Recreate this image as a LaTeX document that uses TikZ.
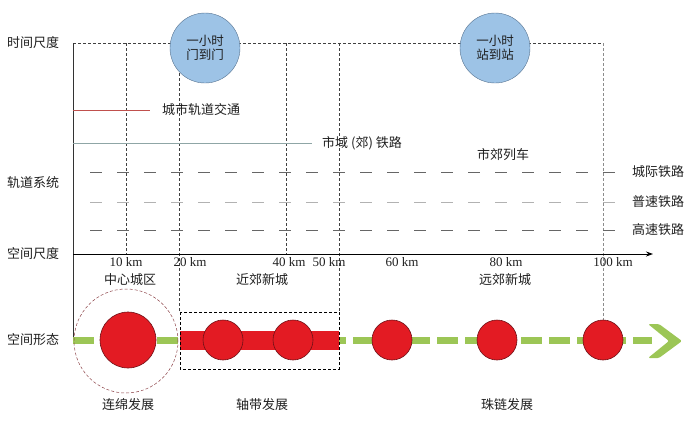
\documentclass[tikz,border=0pt]{standalone}
\usepackage{fontspec}
\setmainfont{Liberation Serif}
\newfontfamily\cjk{Noto Sans CJK SC}
\usepackage{tikz}
\usetikzlibrary{arrows.meta}

\definecolor{cityred}{HTML}{E31B23}
\definecolor{cityedge}{HTML}{6E1016}
\definecolor{hourblue}{HTML}{9DC3E6}
\definecolor{houredge}{HTML}{55718F}
\definecolor{formgreen}{HTML}{9CC656}
\definecolor{metroline}{HTML}{C0504D}
\definecolor{suburbline}{HTML}{8FA6A6}
\definecolor{txtgray}{HTML}{1E1E1E}

\begin{document}
\begin{tikzpicture}[x=1pt, y=-1pt, font=\fontsize{13}{15}\selectfont, text=txtgray,
    hour/.style={circle, draw=houredge, fill=hourblue, minimum size=70pt, inner sep=0pt, align=center, font=\cjk\fontsize{12.5}{14}\selectfont},
    town/.style={circle, draw=cityedge, fill=cityred, minimum size=40pt, inner sep=0pt, line width=0.6pt},
    lbl/.style={inner sep=1pt, font=\cjk\fontsize{13}{15}\selectfont},
    kmlbl/.style={inner sep=1pt},
    gridline/.style={densely dashed, draw=black!75, line width=0.6pt},
    railline/.style={dash pattern=on 12pt off 15pt, line width=0.9pt}]
    \useasboundingbox (0,0) rectangle (700,424);
    % Paths, nodes and wires:
    \coordinate (tl) at (73,43);
    \coordinate (tr) at (603,43);
    \coordinate (o) at (73,254);
    \coordinate (xend) at (653,254);
    \coordinate (bl) at (73,340);
    \draw[gridline] (tl) -- (tr);
    \draw[line width=0.7pt, black!80] (tl) -- (bl);
    % scale columns
    \coordinate (t10) at (126,43);  \coordinate (b10) at (126,254);
    \coordinate (t20) at (179,43);  \coordinate (b20) at (179,312);
    \coordinate (t40) at (286,43);  \coordinate (b40) at (286,254);
    \coordinate (t50) at (339,43);  \coordinate (b50) at (339,312);
    \coordinate (t100) at (603,43); \coordinate (b100) at (603,320);
    \draw[gridline] (t10) -- (b10);
    \draw[gridline] (t20) -- (b20);
    \draw[gridline] (t40) -- (b40);
    \draw[gridline] (t50) -- (b50);
    \draw[densely dashed, draw=black!45, line width=0.6pt] (t100) -- (b100);
    \node[hour] (doortodoor) at (205,48) {一小时\\门到门};
    \node[hour] (stationtostation) at (495,48) {一小时\\站到站};
    % rail systems
    \coordinate (metroa) at (73,110);  \coordinate (metrob) at (150,110);
    \coordinate (suburba) at (73,143); \coordinate (suburbb) at (312,143);
    \draw[metroline, line width=0.9pt] (metroa) -- (metrob);
    \draw[suburbline, line width=0.9pt] (suburba) -- (suburbb);
    \node[lbl, anchor=west] (metro) at (161,110) {城市轨道交通};
    \node[lbl, anchor=west] (suburb) at (321,143) {市域 (郊) 铁路};
    \node[lbl] (commuter) at (503,155) {市郊列车};
    \coordinate (intera) at (90,172); \coordinate (interb) at (618,172);
    \coordinate (norma) at (90,202);  \coordinate (normb) at (618,202);
    \coordinate (higha) at (90,230);  \coordinate (highb) at (618,230);
    \draw[railline, black!60] (intera) -- (interb);
    \draw[railline, black!30] (norma) -- (normb);
    \draw[railline, black!60] (higha) -- (highb);
    \node[lbl, anchor=west] (intercity) at (631,172) {城际铁路};
    \node[lbl, anchor=west] (normal) at (631,202) {普速铁路};
    \node[lbl, anchor=west] (highspeed) at (631,230) {高速铁路};
    % left labels
    \node[lbl] (timescale) at (33,43) {时间尺度};
    \node[lbl] (railsys) at (33,183) {轨道系统};
    \node[lbl] (spacescale) at (33,254) {空间尺度};
    \node[lbl] (spaceform) at (33,340) {空间形态};
    % distance axis
    \draw[line width=1pt, -{Stealth[length=7pt, width=5pt]}] (o) -- (xend);
    \node[kmlbl] (km10) at (126,262) {10 km};
    \node[kmlbl] (km20) at (190,262) {20 km};
    \node[kmlbl] (km40) at (289,262) {40 km};
    \node[kmlbl] (km50) at (329,262) {50 km};
    \node[kmlbl] (km60) at (402,262) {60 km};
    \node[kmlbl] (km80) at (506,262) {80 km};
    \node[kmlbl] (km100) at (613,262) {100 km};
    \node[lbl] (center) at (130,280) {中心城区};
    \node[lbl] (nearnew) at (262,280) {近郊新城};
    \node[lbl] (farnew) at (505,280) {远郊新城};
    % spatial form
    \coordinate (ge) at (652,340);
    \coordinate (ra) at (180,340); \coordinate (rb) at (339,340);
    \draw[formgreen, line width=7pt, dash pattern=on 21pt off 7pt] (bl) -- (ge);
    \fill[formgreen, rounded corners=1.5pt] (648,324) -- (659,324) -- (682,341) -- (659,358) -- (648,358) -- (669,341) -- cycle;
    \draw[cityred, line width=19pt] (ra) -- (rb);
    \draw[densely dashed, black, line width=0.6pt] (180,312) rectangle (339,369);
    \node[circle, draw=cityedge!80, densely dashed, minimum size=104pt, inner sep=0pt, line width=0.5pt] (sprawl) at (126,341) {};
    \node[town, minimum size=56pt] (core) at (128,340) {};
    \node[town] (n1) at (223,340) {};
    \node[town] (n2) at (293,340) {};
    \node[town] (f1) at (392,340) {};
    \node[town] (f2) at (497,340) {};
    \node[town] (f3) at (603,340) {};
    \node[lbl] (contig) at (128,405) {连绵发展};
    \node[lbl] (axial) at (262,405) {轴带发展};
    \node[lbl] (beads) at (507,405) {珠链发展};
\end{tikzpicture}
\end{document}
